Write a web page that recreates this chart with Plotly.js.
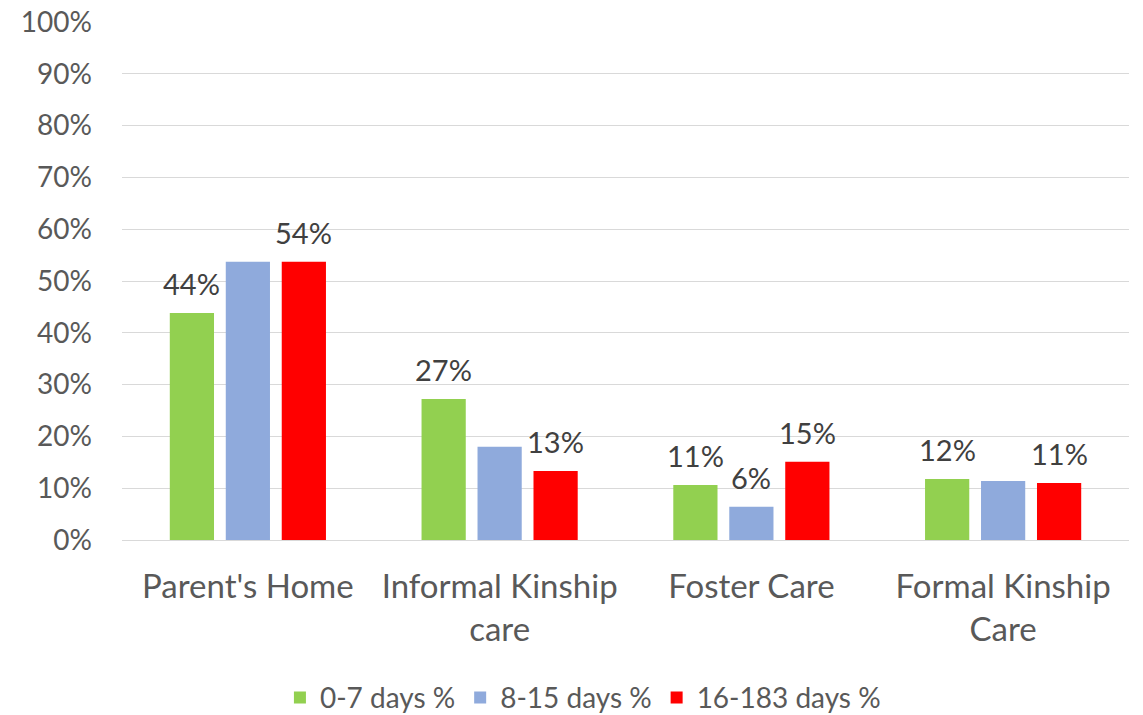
<!DOCTYPE html>
<html>
<head>
<meta charset="utf-8">
<script src="https://cdn.plot.ly/plotly-3.0.1.min.js"></script>
<style>html,body{margin:0;padding:0;background:#fff;}#chart{width:1143px;height:715px;}</style>
</head>
<body>
<div id="chart"></div>
<script>
const categories = ["Parent's Home", "Informal Kinship<br>care", "Foster Care", "Formal Kinship<br>Care"];
const seriesNames = ["0-7 days %", "8-15 days %", "16-183 days %"];
const days0to7 = [43.8, 27.2, 10.6, 11.8];
const days8to15 = [53.7, 18.0, 6.4, 11.4];
const days16to183 = [53.7, 13.3, 15.1, 11.0];
const labels0to7 = ["44%", "27%", "11%", "12%"];
const labels8to15 = ["", "", "6%", ""];
const labels16to183 = ["54%", "13%", "15%", "11%"];
const colors = ["#92d050", "#8faadc", "#ff0000"];
const yTickVals = [0,10,20,30,40,50,60,70,80,90,100];
const yTickText = ["0%","10%","20%","30%","40%","50%","60%","70%","80%","90%","100%"];

const font = "Lato, 'Open Sans', sans-serif";
const W = 1143, H = 715;
const margin = {l: 122, r: 14, t: 22, b: 175};
const bargap = 0.333, bargroupgap = 0.21;
const values = [days0to7, days8to15, days16to183];
const texts = [labels0to7, labels8to15, labels16to183];

const traces = values.map((v, i) => ({
  type: 'bar',
  name: seriesNames[i],
  x: categories,
  y: v,
  marker: {color: colors[i]},
  hoverinfo: 'none'
}));

// data labels anchored on the bar tops (data coords), shifted to each bar's slot in the group
const catWidth = (W - margin.l - margin.r) / categories.length;
const slot = catWidth * (1 - bargap) / values.length;
const annotations = [];
values.forEach((v, i) => {
  v.forEach((val, j) => {
    if (texts[i][j]) {
      annotations.push({
        x: categories[j], y: val, xref: 'x', yref: 'y',
        text: texts[i][j], showarrow: false,
        xanchor: 'center', yanchor: 'bottom',
        xshift: (i - 1) * slot, yshift: 10,
        font: {family: font, size: 29, color: '#404040'}
      });
    }
  });
});

const layout = {
  width: W, height: H,
  margin: margin,
  paper_bgcolor: '#fff', plot_bgcolor: '#fff',
  barmode: 'group',
  bargap: bargap,
  bargroupgap: bargroupgap,
  font: {family: font, color: '#595959'},
  annotations: annotations,
  xaxis: {
    type: 'category', automargin: false,
    tickfont: {family: font, size: 33, color: '#595959'},
    showgrid: false, zeroline: false, showline: false,
    ticks: '', ticklen: 0, ticklabelstandoff: 24
  },
  yaxis: {
    range: [0, 100], automargin: false,
    tickvals: yTickVals, ticktext: yTickText,
    tickfont: {family: font, size: 28, color: '#595959'},
    showgrid: true, gridcolor: '#d9d9d9', gridwidth: 1,
    zeroline: true, zerolinecolor: '#d9d9d9', zerolinewidth: 1,
    showline: false, ticks: '', ticklabelstandoff: 29
  },
  showlegend: true,
  legend: {
    orientation: 'h', xref: 'container', yref: 'container',
    x: 0.51, xanchor: 'center', y: 0.024, yanchor: 'middle',
    font: {family: font, size: 28, color: '#595959'},
    itemwidth: 30, traceorder: 'normal'
  }
};

Plotly.newPlot('chart', traces, layout, {displayModeBar: false, staticPlot: true});
</script>
</body>
</html>
